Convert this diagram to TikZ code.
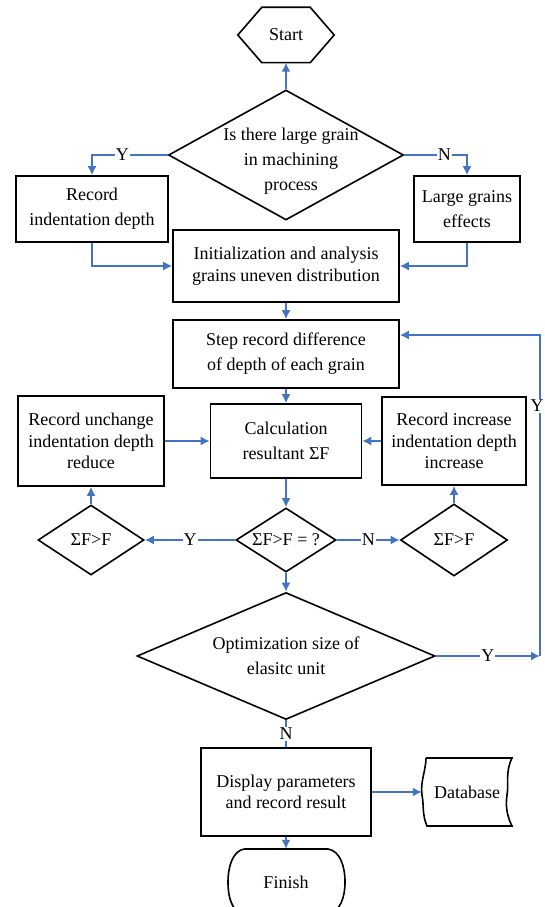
\documentclass[tikz,border=0pt]{standalone}
\usepackage{fontspec}
\setmainfont{Liberation Serif}
\usetikzlibrary{shapes.geometric,arrows.meta}
\definecolor{flowblue}{RGB}{68,114,196}

\begin{document}
\begin{tikzpicture}[x=1pt,y=-1pt,
  box/.style={draw,line width=1.6pt,align=center,inner sep=0pt,font=\fontsize{18}{25}\selectfont},
  dense/.style={font=\fontsize{18}{21.5}\selectfont},
  dec/.style={diamond,draw,line width=1.6pt,align=center,inner sep=0pt,font=\fontsize{18}{25}\selectfont},
  txt/.style={align=center,inner sep=0pt,font=\fontsize{18}{25}\selectfont},
  flow/.style={draw=flowblue,line width=1.6pt,-{Latex[length=9pt,width=9pt]}},
  link/.style={draw=flowblue,line width=1.6pt},
  yn/.style={fill=white,inner sep=1pt,font=\fontsize{18}{20}\selectfont}]

  \useasboundingbox (0,0) rectangle (544,907);

  \node[txt,minimum width=96pt,minimum height=55pt] at (286,35) (start) {Start};
  \draw[line width=1.6pt] (start.west)--([xshift=24pt]start.north west)--([xshift=-24pt]start.north east)--(start.east)--([xshift=-24pt]start.south east)--([xshift=24pt]start.south west)--cycle;

  \node[dec,aspect=1.81,minimum width=235pt,minimum height=130pt,label={[txt,xshift=5pt,yshift=-6pt]center:{Is there large grain\\in machining\\process}}] at (286,155) (q1) {};
  \node[box,minimum width=152pt,minimum height=66pt] at (92,209) (rec) {Record\\indentation depth};
  \node[box,minimum width=106pt,minimum height=66pt] at (467,209) (large) {Large grains\\effects};
  \node[box,dense,minimum width=226pt,minimum height=72pt] at (286,266) (init) {Initialization and analysis\\grains uneven distribution};

  \node[box,minimum width=226pt,minimum height=68pt] at (286,354) (step) {Step record difference\\of depth of each grain};
  \node[box,minimum width=151pt,minimum height=74pt] at (286,441) (calc) {Calculation\\resultant ΣF};
  \node[box,dense,minimum width=146pt,minimum height=90pt] at (91,441) (unc) {Record unchange\\indentation depth\\reduce};
  \node[box,dense,minimum width=144pt,minimum height=88pt] at (454,441) (inc) {Record increase\\indentation depth\\increase};

  \node[dec,aspect=1.56,minimum width=100pt,minimum height=64pt] at (286,540) (q2) {ΣF>F = ?};
  \node[dec,aspect=1.51,minimum width=106pt,minimum height=70pt] at (91,540) (dl) {ΣF>F};
  \node[dec,aspect=1.49,minimum width=107pt,minimum height=72pt] at (454,540) (dr) {ΣF>F};
  \node[dec,aspect=2.35,minimum width=298pt,minimum height=127pt] at (286,656) (q3) {Optimization size of\\elasitc unit};

  \node[box,dense,minimum width=170pt,minimum height=88pt] at (286,792) (disp) {Display parameters\\and record result};
  \node[txt,minimum width=90pt,minimum height=68pt] at (467,792) (db) {Database};
  \draw[line width=1.6pt] (426,758)--(512,758) .. controls (505,772) and (509,785) .. (507,795) .. controls (505,808) and (508,818) .. (512,826)--(427,826) .. controls (422,815) and (424,805) .. (422,795) .. controls (420,782) and (426,770) .. (426,758);
  \node[txt,minimum width=116pt,minimum height=66pt] at (286,882) (fin) {Finish};
  \draw[line width=1.6pt] (244,849)--(328,849) .. controls (340,851) and (345,866) .. (345,882) .. controls (345,898) and (340,910) .. (330,914)--(242,914) .. controls (232,910) and (228,898) .. (228,882) .. controls (228,866) and (233,851) .. (244,849);

  \coordinate (back) at (540,656);

  \draw[flow] (q1.north)--(start.south);
  \draw[flow] (q1.west)-|node[yn,pos=0.3]{Y}(rec.north);
  \draw[flow] (q1.east)-|node[yn,pos=0.32]{N}(large.north);
  \draw[flow] (rec.south)|-(init.west);
  \draw[flow] (large.south)|-(init.east);
  \draw[flow] (init.south)--(step.north);
  \draw[flow] (step.south)--(calc.north);
  \draw[flow] (unc.east)--(calc.west);
  \draw[flow] (inc.west)--(calc.east);
  \draw[flow] (calc.south)--(q2.north);

  \draw[flow] (q2.west)--node[yn]{Y}(dl.east);
  \draw[flow] (q2.east)--node[yn]{N}(dr.west);
  \draw[flow] (dl.north)--(unc.south);
  \draw[flow] (dr.north)--(inc.south);
  \draw[flow] (q2.south)--(q3.north);
  \draw[flow] (q3.east)--node[yn]{Y}(back);
  \draw[flow] (back)|-node[yn,pos=0.39,xshift=-3pt]{Y}([yshift=19pt]step.east);

  \draw[link] (q3.south)--node[yn]{N}(disp.north);
  \draw[flow] (disp.east)--(db.west);
  \draw[flow] (disp.south)--(fin.north);

\end{tikzpicture}
\end{document}
